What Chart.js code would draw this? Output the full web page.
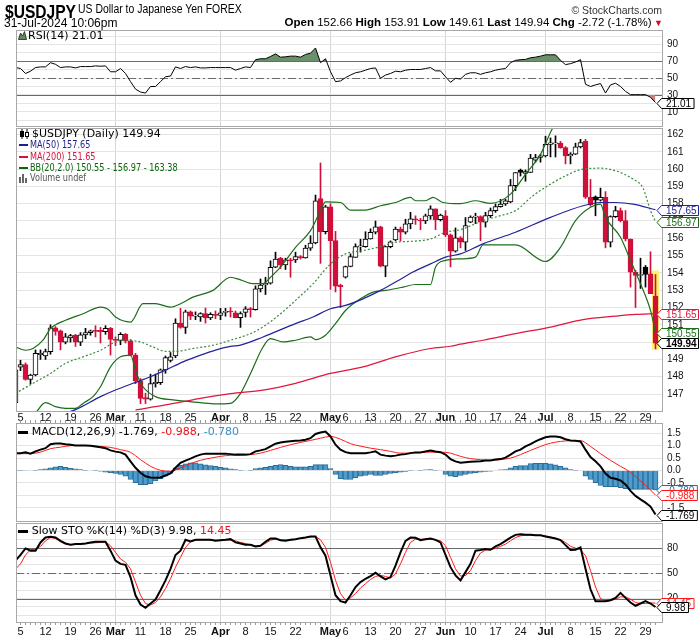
<!DOCTYPE html>
<html lang="en">
<head>
  <meta charset="UTF-8">
  <title>$USDJPY Daily</title>
  <script src="https://cdn.jsdelivr.net/npm/chart.js"></script>
  <style>
    body { margin: 0; width: 700px; height: 639px; position: relative; overflow: hidden; background: #fff;
           font-family: "Liberation Sans", Arial, sans-serif; color: #000; }
    canvas { position: absolute; left: 0; }
    .t { position: absolute; white-space: nowrap; }
    .lg { position: absolute; white-space: nowrap; font-family: "DejaVu Sans", Verdana, sans-serif; font-size: 11px; line-height: 11px; }
    .nar { transform: scaleX(0.74); transform-origin: left center; }
    .sw { position: absolute; height: 2px; }
  </style>
</head>
<body>
  <canvas id="rsiChart" width="700" height="118" style="top:19px"></canvas>
  <canvas id="priceChart" width="700" height="310" style="top:117px"></canvas>
  <canvas id="macdChart" width="700" height="122" style="top:410px"></canvas>
  <canvas id="stoChart" width="700" height="127" style="top:512px"></canvas>

  <!-- header -->
  <div class="t" style="left:5px;top:2px;font-size:19px;line-height:19px;font-weight:bold;transform:scaleX(0.82);transform-origin:left center">$USDJPY</div>
  <div class="t" style="left:78px;top:3px;font-size:12px;line-height:12px;transform:scaleX(0.87);transform-origin:left center">US Dollar to Japanese Yen FOREX</div>
  <div class="t" style="right:38px;top:5px;font-size:10.5px;line-height:10.5px;color:#333">&copy; StockCharts.com</div>
  <div class="t" style="left:4px;top:16.5px;font-size:12px;line-height:12px">31-Jul-2024 10:06pm</div>
  <div class="t" style="right:37px;top:17.3px;font-size:11.5px;line-height:11.5px"><b>Open</b> 152.66 <b>High</b> 153.91 <b>Low</b> 149.61 <b>Last</b> 149.94 <b>Chg</b> -2.72 (-1.78%)<span style="color:#c8102e;font-size:9px"> &#9660;</span></div>

  <!-- panel legends -->
  <svg style="position:absolute;left:18px;top:31px" width="9" height="9"><polygon points="0.5,8.5 2.5,2 4.5,5 6.5,0.5 8.5,8.5" fill="#5e8a5e" stroke="#222" stroke-width="0.8"/></svg>
  <div class="lg" style="left:28px;top:30.2px">RSI(14) 21.01</div>

  <svg style="position:absolute;left:20px;top:128.5px" width="10" height="10"><line x1="2" y1="0" x2="2" y2="10" stroke="#000"/><rect x="0.5" y="2.5" width="3" height="5" fill="#000" stroke="#000"/><line x1="7" y1="0" x2="7" y2="10" stroke="#000"/><rect x="5.5" y="3.5" width="3" height="4" fill="#fff" stroke="#000"/></svg>
  <div class="lg" style="left:32px;top:128px">$USDJPY (Daily) 149.94</div>
  <div class="sw" style="left:19px;top:144px;width:9px;background:#1f1f8f"></div>
  <div class="lg nar" style="left:29.5px;top:139px;color:#1f1f8f">MA(50) 157.65</div>
  <div class="sw" style="left:19px;top:156.3px;width:9px;background:#d8123f"></div>
  <div class="lg nar" style="left:29.5px;top:150.7px;color:#d8123f">MA(200) 151.65</div>
  <div class="sw" style="left:19px;top:167px;width:9px;background:#0c650c"></div>
  <div class="lg nar" style="left:29.5px;top:162.4px;color:#0c650c">BB(20,2.0) 150.55 - 156.97 - 163.38</div>
  <svg style="position:absolute;left:19px;top:174px" width="9" height="9"><rect x="0" y="3" width="2" height="6" fill="#666"/><rect x="3" y="0" width="2" height="9" fill="#666"/><rect x="6" y="4" width="2" height="5" fill="#666"/></svg>
  <div class="lg nar" style="left:29.5px;top:172.4px;color:#555">Volume undef</div>

  <div class="sw" style="left:18px;top:430.5px;width:10px;height:3px;background:#000"></div>
  <div class="lg" style="left:31.7px;top:426.2px">MACD(12,26,9) -1.769, <span style="color:#e8141e">-0.988</span>, <span style="color:#3d8fc4">-0.780</span></div>
  <div class="sw" style="left:18px;top:529.5px;width:10px;height:3px;background:#000"></div>
  <div class="lg" style="left:31.7px;top:525.2px">Slow STO %K(14) %D(3) 9.98, <span style="color:#e8141e">14.45</span></div>

  <script>
    // x positions are trading-day indices, 0 = Mon 5 Feb 2024, -1 = Fri 2 Feb, 127 = Wed 31 Jul
    const FIRST = -1;
    const tickDays = [0, 5, 10, 15, 19, 24, 29, 34, 40, 45, 50, 55, 62, 65, 70, 75, 80, 85, 90, 95, 100, 105, 110, 115, 120, 125];
    const tickLabels = ['5', '12', '19', '26', 'Mar', '11', '18', '25', 'Apr', '8', '15', '22', 'May', '6', '13', '20', '27', 'Jun', '10', '17', '24', 'Jul', '8', '15', '22', '29'];
    const monthDays = [19, 40, 62, 85, 105];

    const opens = [
      146.5, 148.55, 148.7, 147.85, 148.1, 149.28, 149.2, 149.45, 150.82, 150.65,
      150.0, 150.25, 150.4, 150.0, 150.42, 150.55, 150.65, 150.68, 150.6, 150.8,
      150.15, 150.1, 150.45, 150.05, 149.25, 147.75, 146.8, 146.7, 147.6, 147.65,
      148.4, 148.95, 149.2, 151.1, 150.85, 151.75, 151.5, 151.45, 151.65, 151.4,
      151.6, 151.55, 151.72, 151.78, 151.7, 151.42, 151.72, 151.93, 151.88, 153.08,
      153.3, 153.4, 154.33, 154.84, 154.46, 154.75, 154.75, 154.94, 154.87, 155.43,
      155.73, 158.3, 156.38, 157.82, 155.87, 153.3, 153.76, 154.37, 154.9, 155.5,
      155.52, 155.96, 156.35, 156.67, 154.39, 155.52, 155.9, 156.54, 156.35, 156.83,
      157.12, 157.06, 157.0, 157.3, 157.7, 157.07, 157.3, 156.2, 155.25, 156.03,
      155.77, 156.93, 157.22, 157.25, 156.93, 157.31, 157.6, 157.83, 157.98, 158.1,
      159.04, 159.94, 159.75, 159.8, 160.51, 160.67, 160.76, 161.43, 161.45, 161.5,
      161.24, 160.76, 160.86, 161.28, 161.6, 158.37, 158.4, 158.2, 158.37, 155.77,
      157.25, 157.6, 157.02, 155.96, 154.04, 153.85, 154.33, 153.95, 152.66
    ];
    const highs = [
      148.6, 148.95, 148.8, 148.15, 149.55, 149.55, 149.6, 151.0, 150.9, 150.7,
      150.5, 150.45, 150.45, 150.55, 150.8, 150.7, 150.95, 150.85, 150.95, 150.85,
      150.3, 150.55, 150.5, 150.15, 149.35, 147.9, 147.05, 148.15, 148.15, 148.45,
      149.2, 149.4, 151.35, 151.95, 151.85, 151.8, 151.75, 151.7, 151.97, 151.7,
      151.8, 151.95, 151.95, 152.0, 151.8, 151.75, 152.05, 152.0, 153.25, 153.65,
      153.75, 154.7, 155.2, 154.9, 154.85, 154.85, 155.2, 155.0, 155.6, 156.15,
      158.5, 160.35, 157.9, 158.0, 156.4, 153.35, 154.4, 155.1, 155.68, 155.95,
      156.38, 156.55, 157.0, 156.7, 155.55, 155.85, 156.65, 156.65, 157.1, 157.5,
      157.3, 157.15, 157.4, 157.88, 157.7, 157.4, 157.6, 156.25, 156.6, 156.1,
      157.2, 157.3, 157.45, 157.3, 157.5, 157.75, 157.98, 158.25, 158.25, 159.4,
      159.8, 160.0, 159.95, 160.85, 160.85, 160.85, 161.9, 161.8, 161.92, 161.6,
      161.3, 160.95, 161.5, 161.72, 161.72, 159.4, 158.45, 158.9, 158.7, 157.3,
      157.85, 157.75, 157.6, 155.96, 154.15, 154.85, 154.43, 155.22, 153.91
    ];
    const lows = [
      146.3, 148.35, 147.8, 147.6, 148.05, 149.0, 149.0, 149.3, 150.4, 149.55,
      149.9, 150.0, 149.75, 149.8, 150.2, 150.4, 150.3, 149.95, 150.45, 149.25,
      149.8, 149.85, 149.95, 149.2, 147.6, 146.45, 146.45, 146.65, 147.4, 147.55,
      148.2, 148.85, 149.1, 150.8, 150.5, 151.3, 151.3, 151.2, 151.1, 151.3,
      151.35, 151.3, 151.5, 151.45, 151.4, 150.85, 151.45, 151.45, 151.85, 152.9,
      152.75, 153.35, 154.3, 154.25, 154.2, 153.75, 154.6, 154.8, 154.85, 155.3,
      155.68, 154.55, 156.25, 153.05, 152.9, 152.0, 153.7, 154.35, 154.9, 155.2,
      155.48, 155.95, 156.25, 154.35, 153.78, 155.45, 155.85, 155.85, 156.25, 156.55,
      156.8, 156.5, 156.85, 157.1, 156.5, 157.0, 156.1, 154.35, 155.2, 155.45,
      155.3, 156.9, 156.85, 155.86, 156.65, 157.2, 157.5, 157.8, 157.9, 158.05,
      158.75, 159.6, 159.3, 159.8, 160.4, 160.4, 160.7, 160.7, 160.7, 161.2,
      160.3, 160.3, 160.84, 161.22, 158.3, 157.85, 157.3, 158.15, 155.45, 155.5,
      157.2, 156.95, 155.85, 153.18, 152.0, 153.1, 153.18, 152.8, 149.61
    ];
    const closes = [
      148.4, 148.7, 147.85, 148.1, 149.35, 149.35, 149.45, 150.82, 150.62, 150.0,
      150.3, 150.38, 150.0, 150.42, 150.55, 150.65, 150.62, 150.6, 150.8, 150.15,
      150.1, 150.45, 150.05, 149.25, 147.75, 146.75, 146.7, 147.6, 147.68, 148.4,
      149.1, 149.15, 151.1, 150.85, 151.75, 151.5, 151.55, 151.65, 151.4, 151.6,
      151.55, 151.7, 151.75, 151.74, 151.42, 151.65, 151.93, 151.88, 153.08, 153.3,
      153.4, 154.32, 154.8, 154.46, 154.75, 154.7, 154.94, 154.87, 155.43, 155.73,
      158.17, 156.38, 157.82, 155.87, 153.24, 153.2, 154.37, 154.94, 155.52, 155.53,
      155.96, 156.35, 156.67, 154.39, 155.52, 155.8, 156.54, 156.35, 156.83, 157.12,
      157.06, 157.0, 157.3, 157.7, 157.08, 157.34, 156.2, 155.25, 156.03, 155.77,
      156.73, 157.22, 157.25, 156.93, 157.31, 157.6, 157.83, 157.98, 158.17, 159.04,
      159.8, 159.81, 159.85, 160.63, 160.67, 160.76, 161.43, 161.52, 161.52, 161.24,
      160.76, 160.86, 161.28, 161.53, 158.37, 157.94, 158.2, 158.37, 155.77, 157.25,
      157.6, 157.02, 155.96, 154.04, 153.85, 153.9, 153.91, 152.8, 149.94
    ];

    // overlays as [day, value]
    const ma50 = [[10, 146.0], [11, 146.1], [16, 146.85], [19, 147.23], [22.5, 147.62], [26, 148.0], [29, 148.38], [32.5, 148.86],
      [36, 149.25], [39, 149.54], [42, 149.75], [44, 149.83], [48.5, 150.3], [55, 151.07], [58.5, 151.45], [62, 151.93], [65, 152.12],
      [68.5, 152.5], [72, 152.99], [75, 153.47], [78.5, 154.05], [82, 154.52], [85, 154.91], [88, 155.1], [92.5, 155.68], [99, 156.35],
      [106, 157.21], [112.5, 157.88], [116, 158.07], [119, 158.07], [122.5, 157.98], [127, 157.65]];
    const ma200 = [[23, 146.08], [29, 146.37], [36, 146.75], [42, 147.02], [48.5, 147.23], [55, 147.62], [62, 148.19], [68.5, 148.57],
      [75, 149.15], [82, 149.63], [86, 149.76], [88, 149.88], [92.5, 150.11], [99, 150.49], [106, 150.87], [112.5, 151.3], [119, 151.5],
      [123, 151.6], [127, 151.65]];
    const bbUpper = [[-1, 149.72], [1, 149.53], [2.5, 149.63], [4.5, 150.11], [6, 150.78], [9, 151.26], [12.5, 151.64], [16, 152.02],
      [17.5, 151.9], [19, 151.45], [22, 151.16], [24.5, 152.22], [27, 152.22], [30, 152.02], [32, 152.22], [34.5, 152.6], [38.5, 152.99],
      [42, 153.75], [44, 153.6], [46.5, 153.38], [48.5, 153.38], [50, 153.75], [52, 154.33], [55, 155.48], [58, 156.44], [60, 157.6],
      [61, 158.1], [64, 158.07], [66, 157.63], [69, 157.63], [72, 157.88], [75, 158.07], [78, 158.36], [79, 158.17], [81, 158.17],
      [82.5, 158.36], [84.5, 158.07], [88, 158.0], [91, 158.17], [94, 158.02], [98, 158.55], [101, 159.7], [104, 160.85], [106.5, 162.4],
      [108, 162.9], [111, 163.3], [114, 163.5], [118, 163.45], [122, 163.35], [127, 163.38]];
    const bbMiddle = [[-1, 147.04], [2.5, 147.62], [6, 148.19], [9, 148.77], [12.5, 149.15], [16, 149.53], [19, 150.01], [21, 150.11],
      [24, 150.01], [26.5, 149.72], [29, 149.47], [31, 149.47], [34.5, 149.63], [38.5, 149.82], [42, 150.11], [46, 150.49], [48.5, 150.88],
      [52, 151.64], [55, 152.41], [58.5, 153.37], [62, 154.52], [65, 155.1], [68.5, 155.29], [72, 155.52], [75, 155.77], [78.5, 155.83],
      [82, 155.96], [85, 156.35], [88, 156.5], [92.5, 157.02], [96, 157.31], [99, 157.6], [102.5, 158.46], [106, 159.13], [109, 159.61],
      [112.5, 160.0], [116, 160.05], [119, 159.9], [122.5, 159.42], [124.5, 158.9], [126, 157.6], [127, 156.97]];
    const bbLower = [[3, 145.9], [5, 146.5], [7, 146.27], [9, 146.17], [11, 146.17], [12.5, 146.46], [14.5, 146.85], [16, 147.42],
      [18, 148.57], [20, 149.15], [22, 149.25], [23.2, 148.19], [24.5, 147.42], [27, 146.85], [30.5, 146.66], [36, 146.5], [39, 146.43],
      [42, 146.46], [44, 147.04], [46, 148.19], [48.5, 149.72], [50, 150.2], [52.5, 150.01], [55, 150.11], [58, 150.3], [59, 150.15],
      [61, 150.4], [63, 151.07], [65, 151.83], [68.5, 152.6], [70.5, 152.89], [73, 152.99], [76.5, 153.18], [79, 153.33], [82, 153.33],
      [83, 154.33], [85, 154.72], [88, 154.81], [91, 154.91], [92.5, 155.62], [99, 155.62], [105, 154.66], [108, 155.48], [111, 157.02],
      [114, 157.79], [116, 157.98], [117, 157.21], [120, 156.06], [122, 154.72], [124, 153.37], [126, 151.83], [127, 150.55]];

    const rsi = [
      62.7, 61.5, 55.6, 58.3, 62.6, 63.4, 63.4, 68.4, 66.5, 62.6,
      63.4, 63.4, 62.2, 63.8, 63.8, 63.8, 64.6, 64.2, 64.6, 57.6,
      57.6, 61.5, 55.6, 45.9, 37.0, 33.5, 32.3, 40.1, 40.1, 45.9,
      51.7, 52.5, 63.4, 61.5, 63.8, 62.6, 63.4, 62.2, 62.2, 62.6,
      62.6, 62.6, 62.6, 62.6, 59.5, 61.5, 63.4, 62.6, 72.0, 73.1,
      73.1, 75.8, 78.9, 75.0, 75.4, 76.2, 76.2, 75.0, 78.2, 79.7,
      85.9, 68.4, 73.1, 57.6, 45.9, 46.7, 50.6, 53.7, 56.4, 57.6,
      59.5, 61.5, 62.2, 49.8, 53.7, 55.6, 58.3, 57.6, 59.5, 60.3,
      60.3, 60.3, 61.5, 62.6, 58.7, 58.7, 51.7, 45.1, 49.8, 49.0,
      54.5, 56.4, 56.4, 54.5, 56.4, 57.6, 59.5, 60.7, 61.5, 68.4,
      71.2, 72.0, 72.3, 74.3, 75.0, 76.2, 77.8, 77.8, 77.8, 71.2,
      66.1, 67.3, 69.2, 72.0, 42.8, 40.1, 42.0, 43.6, 32.3, 42.0,
      44.0, 40.1, 34.3, 30.4, 30.4, 30.4, 30.4, 27.3, 21.01
    ];
    const macd = [
      0.70, 0.70, 0.73, 0.68, 0.77, 0.84, 0.90, 1.06, 1.09, 1.09,
      1.06, 1.04, 1.01, 1.01, 1.01, 1.00, 0.97, 0.94, 0.90, 0.81,
      0.76, 0.73, 0.64, 0.37, 0.11, -0.09, -0.23, -0.28, -0.29, -0.28,
      -0.20, -0.12, 0.11, 0.31, 0.40, 0.48, 0.57, 0.64, 0.68, 0.68,
      0.68, 0.68, 0.68, 0.66, 0.64, 0.64, 0.64, 0.66, 0.77, 0.81,
      0.86, 0.97, 1.08, 1.13, 1.16, 1.18, 1.20, 1.21, 1.24, 1.30,
      1.47, 1.53, 1.57, 1.37, 1.04, 0.84, 0.74, 0.70, 0.70, 0.70,
      0.70, 0.73, 0.77, 0.64, 0.60, 0.57, 0.60, 0.64, 0.66, 0.70,
      0.73, 0.73, 0.77, 0.81, 0.77, 0.74, 0.64, 0.46, 0.37, 0.31,
      0.33, 0.35, 0.36, 0.37, 0.40, 0.40, 0.44, 0.46, 0.52, 0.64,
      0.77, 0.84, 0.97, 1.06, 1.17, 1.26, 1.34, 1.37, 1.37, 1.34,
      1.26, 1.21, 1.20, 1.17, 0.84, 0.54, 0.37, 0.17, -0.12, -0.29,
      -0.33, -0.40, -0.56, -0.82, -1.02, -1.16, -1.29, -1.45, -1.769
    ];
    const macdSignal = [[-1, 0.68], [0, 0.68], [2, 0.68], [4, 0.74], [6, 0.88], [8, 0.94], [10, 1.0], [12, 1.01], [14, 1.0], [16, 0.97],
      [18, 0.93], [20, 0.84], [22, 0.73], [24, 0.44], [26, 0.17], [28, 0.01], [30, -0.03], [32, 0.11], [34, 0.28], [36, 0.41], [38, 0.50],
      [40, 0.57], [42, 0.61], [44, 0.61], [46, 0.64], [48, 0.70], [50, 0.81], [52, 0.93], [54, 1.04], [56, 1.13], [58, 1.21], [60, 1.30],
      [62, 1.37], [64, 1.26], [66, 1.08], [68, 0.98], [70, 0.90], [72, 0.84], [74, 0.77], [76, 0.70], [78, 0.70], [80, 0.73], [82, 0.74],
      [84, 0.74], [86, 0.70], [88, 0.57], [90, 0.48], [92, 0.44], [94, 0.41], [96, 0.44], [98, 0.50], [100, 0.64], [102, 0.81], [104, 0.97],
      [106, 1.10], [108, 1.17], [110, 1.20], [112, 1.20], [114, 0.97], [116, 0.68], [118, 0.41], [120, 0.17], [122, -0.07], [124, -0.42],
      [126, -0.78], [127, -0.988]];
    const macdHist = [
      0.01, 0.01, 0.02, 0.0, 0.01, 0.04, 0.07, 0.11, 0.15, 0.17,
      0.13, 0.09, 0.07, 0.04, 0.01, 0.0, -0.01, -0.03, -0.07, -0.09,
      -0.12, -0.16, -0.23, -0.36, -0.49, -0.57, -0.57, -0.53, -0.42, -0.33,
      -0.23, -0.12, 0.11, 0.21, 0.27, 0.31, 0.31, 0.27, 0.23, 0.20,
      0.17, 0.13, 0.11, 0.07, 0.04, 0.01, 0.0, 0.01, 0.08, 0.11,
      0.13, 0.17, 0.21, 0.24, 0.21, 0.17, 0.15, 0.15, 0.15, 0.17,
      0.24, 0.24, 0.24, 0.08, -0.16, -0.33, -0.36, -0.36, -0.29, -0.23,
      -0.20, -0.16, -0.20, -0.20, -0.16, -0.12, -0.09, -0.07, -0.04, -0.01,
      0.0, 0.01, 0.03, 0.04, 0.01, 0.0, -0.16, -0.23, -0.25, -0.20,
      -0.16, -0.12, -0.09, -0.07, -0.04, -0.03, 0.0, 0.03, 0.04, 0.11,
      0.17, 0.20, 0.20, 0.28, 0.29, 0.29, 0.29, 0.27, 0.23, 0.17,
      0.11, 0.04, 0.01, 0.0, -0.23, -0.36, -0.49, -0.60, -0.65, -0.65,
      -0.65, -0.69, -0.73, -0.76, -0.76, -0.76, -0.76, -0.76, -0.78
    ];
    const stoK = [
      65, 71.8, 79.6, 76.9, 76.9, 86.7, 92.5, 93.3, 92.5, 88.6,
      85.5, 83.9, 84.7, 84.7, 85.5, 86.7, 87.5, 87.5, 87.5, 76.9,
      65.1, 61.2, 60.0, 45.5, 23.9, 12.9, 9.0, 14.1, 18.8, 29.8,
      41.6, 55.3, 71.8, 76.9, 89.8, 87.8, 89.8, 89.8, 89.8, 89.8,
      88.6, 89.4, 89.8, 90.6, 86.7, 85.5, 83.9, 83.9, 82.0, 82.7,
      87.5, 91.4, 91.4, 89.4, 88.6, 89.8, 90.6, 91.8, 92.5, 93.7,
      93.7, 80.8, 71.0, 47.5, 23.9, 16.9, 15.3, 23.9, 33.7, 39.6,
      43.5, 46.7, 50.6, 46.3, 42.7, 45.5, 59.2, 74.9, 88.6, 92.5,
      92.2, 89.4, 90.6, 91.4, 89.8, 86.7, 71.8, 57.3, 47.5, 41.6,
      51.4, 61.2, 76.9, 77.6, 78.8, 78.0, 82.0, 84.7, 88.6, 92.5,
      95.7, 96.5, 95.7, 95.7, 95.3, 95.3, 93.7, 92.5, 91.4, 89.4,
      83.5, 77.6, 78.0, 80.8, 55.3, 31.0, 16.9, 16.9, 16.9, 18.0,
      20.8, 26.7, 20.8, 15.3, 11.4, 14.1, 16.9, 14.1, 9.98
    ];
    const stoD = [
      55, 61.2, 71.8, 78.0, 78.8, 82.0, 88.6, 92.5, 91.4, 87.5,
      84.7, 83.9, 84.3, 84.7, 85.3, 85.9, 86.3, 86.7, 87.5, 82.7,
      74.9, 67.0, 63.1, 55.3, 39.6, 23.9, 14.1, 12.2, 15.3, 22.0,
      31.8, 43.5, 57.3, 69.0, 80.8, 87.5, 89.4, 89.8, 89.8, 89.8,
      89.4, 89.4, 89.6, 89.8, 88.6, 86.7, 85.3, 83.9, 82.7, 82.7,
      85.5, 89.4, 90.6, 89.8, 89.6, 89.4, 90.4, 91.4, 92.3, 93.3,
      93.7, 89.8, 80.8, 63.1, 41.6, 25.9, 18.0, 20.8, 25.9, 32.5,
      37.6, 42.7, 46.3, 47.5, 46.3, 44.3, 49.4, 61.2, 74.9, 86.7,
      90.6, 90.6, 90.6, 90.6, 89.8, 88.6, 82.7, 69.0, 55.3, 46.7,
      47.5, 53.3, 65.1, 74.1, 77.6, 78.0, 79.6, 82.0, 84.7, 88.6,
      92.5, 94.5, 95.3, 95.3, 95.3, 95.3, 94.5, 93.3, 91.8, 89.8,
      86.7, 82.0, 80.0, 78.0, 71.0, 53.3, 33.7, 20.0, 16.9, 17.6,
      19.2, 22.0, 22.0, 19.2, 15.3, 14.1, 14.1, 14.9, 14.45
    ];

    const FONT = '"Liberation Sans", Arial, sans-serif';
    const X_MIN = -0.9, X_MAX = 128.3;
    const RED = '#d0103a', BLACK = '#000';
    Chart.defaults.font.family = FONT;

    const last = arr => arr[arr.length - 1];
    const lastPair = arr => arr[arr.length - 1][1];
    const daily = arr => arr.map((v, i) => ({ x: i + FIRST, y: v }));
    const pairs = arr => arr.map(p => ({ x: p[0], y: p[1] }));
    const days = closes.map((c, i) => i + FIRST).filter(d => d >= 0);
    const isMonth = v => monthDays.includes(v);

    // panel frame
    const frame = {
      id: 'frame',
      afterDraw(chart) {
        const a = chart.chartArea, ctx = chart.ctx;
        ctx.save();
        ctx.strokeStyle = '#a8a8a8';
        ctx.lineWidth = 1;
        ctx.strokeRect(a.left + 0.5, a.top + 0.5, a.right - a.left, a.bottom - a.top);
        ctx.restore();
      }
    };
    // overbought / oversold reference lines
    const levels = {
      id: 'levels',
      beforeDatasetsDraw(chart, args, opts) {
        const y = chart.scales.y, a = chart.chartArea, ctx = chart.ctx;
        (opts.lines || []).forEach(l => {
          const py = Math.round(y.getPixelForValue(l.value)) + 0.5;
          ctx.save();
          ctx.strokeStyle = '#6a6a6a';
          ctx.lineWidth = 1;
          ctx.setLineDash(l.dash ? [8, 3, 2, 3] : []);
          ctx.beginPath();
          ctx.moveTo(a.left, py);
          ctx.lineTo(a.right, py);
          ctx.stroke();
          ctx.restore();
        });
      }
    };
    // last-value tags on the right axis
    const tags = {
      id: 'tags',
      afterDraw(chart, args, opts) {
        const y = chart.scales.y, ctx = chart.ctx, x0 = chart.chartArea.right;
        (opts.items || []).forEach(t => {
          const py = Math.round(y.getPixelForValue(t.value)) + 0.5;
          ctx.save();
          ctx.font = (t.bold ? 'bold ' : '') + '10px ' + FONT;
          const right = Math.min(x0 + 4 + ctx.measureText(t.text).width + 3, 698.5);
          ctx.beginPath();
          ctx.moveTo(x0 - 5, py);
          ctx.lineTo(x0 - 0.5, py - 5);
          ctx.lineTo(right, py - 5);
          ctx.lineTo(right, py + 5);
          ctx.lineTo(x0 - 0.5, py + 5);
          ctx.closePath();
          ctx.fillStyle = '#fff';
          ctx.fill();
          ctx.strokeStyle = t.color;
          ctx.lineWidth = 1;
          ctx.stroke();
          ctx.fillStyle = t.bold ? '#000' : t.color;
          ctx.textBaseline = 'middle';
          ctx.fillText(t.text, x0 + 4, py + 0.5);
          ctx.restore();
        });
      }
    };
    // yellow highlight behind the latest bar
    const spot = {
      id: 'spot',
      beforeDatasetsDraw(chart) {
        const x = chart.scales.x, y = chart.scales.y, ctx = chart.ctx;
        const i = closes.length - 1;
        const px = x.getPixelForValue(i + FIRST);
        const top = y.getPixelForValue(highs[i]) - 4, bot = y.getPixelForValue(lows[i]) + 1;
        ctx.save();
        ctx.fillStyle = '#fff36b';
        ctx.fillRect(px - 3.5, top, 7, bot - top);
        ctx.restore();
      }
    };

    function xAxis(position, showLabels, tickLen, height) {
      return {
        type: 'linear', position, min: X_MIN, max: X_MAX, offset: false,
        afterBuildTicks: s => { s.ticks = days.map(v => ({ value: v })); },
        afterFit: s => { s.height = height; },
        border: { display: false },
        grid: {
          offset: false,
          color: c => (c.tick && isMonth(c.tick.value) ? '#d6d6d6' : 'rgba(0,0,0,0)'),
          drawTicks: tickLen > 0, tickLength: tickLen, tickColor: '#9a9a9a', tickWidth: 1
        },
        ticks: {
          display: showLabels, autoSkip: false, maxRotation: 0, minRotation: 0, padding: 0, color: '#111',
          font: c => ({ family: FONT, size: 11, weight: c.tick && isMonth(c.tick.value) ? 'bold' : 'normal' }),
          callback: v => { const k = tickDays.indexOf(v); return k < 0 ? '' : tickLabels[k]; }
        }
      };
    }
    function yAxis(min, max, gridVals, labelVals, fmt) {
      return {
        type: 'linear', position: 'right', min, max,
        afterBuildTicks: s => { s.ticks = gridVals.map(v => ({ value: v })); },
        afterFit: s => { s.width = 38; },
        border: { display: false },
        grid: { color: '#e4e4e4', drawTicks: false },
        ticks: {
          padding: 5, color: '#111', autoSkip: false, font: { family: FONT, size: 10 },
          callback: v => (labelVals.some(l => Math.abs(l - v) < 1e-6) ? fmt(v) : '')
        }
      };
    }
    function options(scales, padding, plugins) {
      return {
        responsive: false, animation: false, events: [],
        layout: { padding: Object.assign({ left: 16, right: 0 }, padding) },
        elements: { point: { radius: 0 } },
        plugins: Object.assign({ legend: { display: false }, tooltip: { enabled: false } }, plugins),
        scales
      };
    }
    const steps = (a, b, s) => { const out = []; for (let v = a; v <= b + 1e-9; v += s) out.push(Math.round(v * 100) / 100); return out; };

    // ---- RSI ----
    new Chart(document.getElementById('rsiChart'), {
      type: 'line',
      data: {
        datasets: [
          { data: daily(rsi), borderColor: '#000', borderWidth: 1, fill: { target: { value: 70 }, above: '#6a9169', below: 'rgba(0,0,0,0)' } },
          { data: daily(rsi), borderWidth: 0, borderColor: 'rgba(0,0,0,0)', fill: { target: { value: 30 }, above: 'rgba(0,0,0,0)', below: '#c77f7f' } }
        ]
      },
      options: options(
        { x: xAxis('bottom', false, 0, 0), y: yAxis(-6.9, 107.3, steps(0, 100, 10), [10, 30, 50, 70, 90], v => String(v)) },
        { top: 10, bottom: 10 },
        {
          levels: { lines: [{ value: 70 }, { value: 50, dash: true }, { value: 30 }] },
          tags: { items: [{ value: last(rsi), text: last(rsi).toFixed(2), color: '#000' }] }
        }
      ),
      plugins: [levels, frame, tags]
    });

    // ---- price ----
    const barColor = closes.map((c, i) => (i > 0 && c < closes[i - 1] ? RED : BLACK));
    const bodyFill = closes.map((c, i) => (c < opens[i] ? barColor[i] : '#fff'));
    new Chart(document.getElementById('priceChart'), {
      type: 'line',
      data: {
        datasets: [
          { data: pairs(ma50), borderColor: '#23239a', borderWidth: 1.2, cubicInterpolationMode: 'monotone' },
          { data: pairs(ma200), borderColor: '#e0163f', borderWidth: 1.2, cubicInterpolationMode: 'monotone' },
          { data: pairs(bbUpper), borderColor: '#1a6e1a', borderWidth: 1.2, cubicInterpolationMode: 'monotone' },
          { data: pairs(bbMiddle), borderColor: '#3a8a3a', borderWidth: 1.2, borderDash: [2, 2], cubicInterpolationMode: 'monotone' },
          { data: pairs(bbLower), borderColor: '#1a6e1a', borderWidth: 1.2, cubicInterpolationMode: 'monotone' },
          {
            type: 'bar', grouped: false, barThickness: 5, minBarLength: 1,
            data: closes.map((c, i) => ({ x: i + FIRST, y: [opens[i], c] })),
            backgroundColor: bodyFill, borderColor: barColor, borderWidth: 1, borderSkipped: false
          },
          {
            type: 'bar', grouped: false, barThickness: 1,
            data: closes.map((c, i) => ({ x: i + FIRST, y: [lows[i], highs[i]] })),
            backgroundColor: barColor, borderWidth: 0
          }
        ]
      },
      options: options(
        { x: xAxis('bottom', true, 0, 16), y: yAxis(146.02, 162.374, steps(147, 162, 1), steps(147, 162, 1), v => String(v)) },
        { top: 10, bottom: 0 },
        {
          tags: {
            items: [
              { value: lastPair(ma50), text: lastPair(ma50).toFixed(2), color: '#23239a' },
              { value: lastPair(bbMiddle), text: lastPair(bbMiddle).toFixed(2), color: '#1a6e1a' },
              { value: lastPair(ma200), text: lastPair(ma200).toFixed(2), color: '#e0163f' },
              { value: lastPair(bbLower), text: lastPair(bbLower).toFixed(2), color: '#1a6e1a' },
              { value: last(closes), text: last(closes).toFixed(2), color: '#000', bold: true }
            ]
          }
        }
      ),
      plugins: [spot, frame, tags]
    });

    // ---- MACD ----
    new Chart(document.getElementById('macdChart'), {
      type: 'line',
      data: {
        datasets: [
          { data: daily(macd), borderColor: '#000', borderWidth: 2 },
          { data: pairs(macdSignal), borderColor: '#ff1a1a', borderWidth: 1, cubicInterpolationMode: 'monotone' },
          {
            type: 'bar', grouped: false, barThickness: 5, data: daily(macdHist),
            backgroundColor: '#4e9ccb', borderColor: '#2b6d99', borderWidth: 1
          }
        ]
      },
      options: options(
        { x: xAxis('top', false, 3, 3), y: yAxis(-2.03, 1.912, steps(-1.5, 1.5, 0.5), steps(-1.5, 1.5, 0.5), v => v.toFixed(1)) },
        { top: 10, bottom: 10 },
        {
          tags: {
            items: [
              { value: last(macdHist), text: last(macdHist).toFixed(3), color: '#2b6d99' },
              { value: lastPair(macdSignal), text: lastPair(macdSignal).toFixed(3), color: '#ff1a1a' },
              { value: last(macd), text: last(macd).toFixed(3), color: '#000' }
            ]
          }
        }
      ),
      plugins: [frame, tags]
    });

    // ---- Slow stochastic ----
    new Chart(document.getElementById('stoChart'), {
      type: 'line',
      data: {
        datasets: [
          { data: daily(stoK), borderColor: '#000', borderWidth: 2 },
          { data: daily(stoD), borderColor: '#ff1a1a', borderWidth: 1 }
        ]
      },
      options: options(
        { x: xAxis('bottom', true, 3, 17), y: yAxis(-7.9, 109.8, steps(0, 100, 10), [20, 50, 80], v => String(v)) },
        { top: 10, bottom: 0 },
        {
          levels: { lines: [{ value: 80 }, { value: 50, dash: true }, { value: 20 }] },
          tags: {
            items: [
              { value: last(stoD), text: last(stoD).toFixed(2), color: '#ff1a1a' },
              { value: last(stoK), text: last(stoK).toFixed(2), color: '#000' }
            ]
          }
        }
      ),
      plugins: [levels, frame, tags]
    });
  </script>
</body>
</html>
